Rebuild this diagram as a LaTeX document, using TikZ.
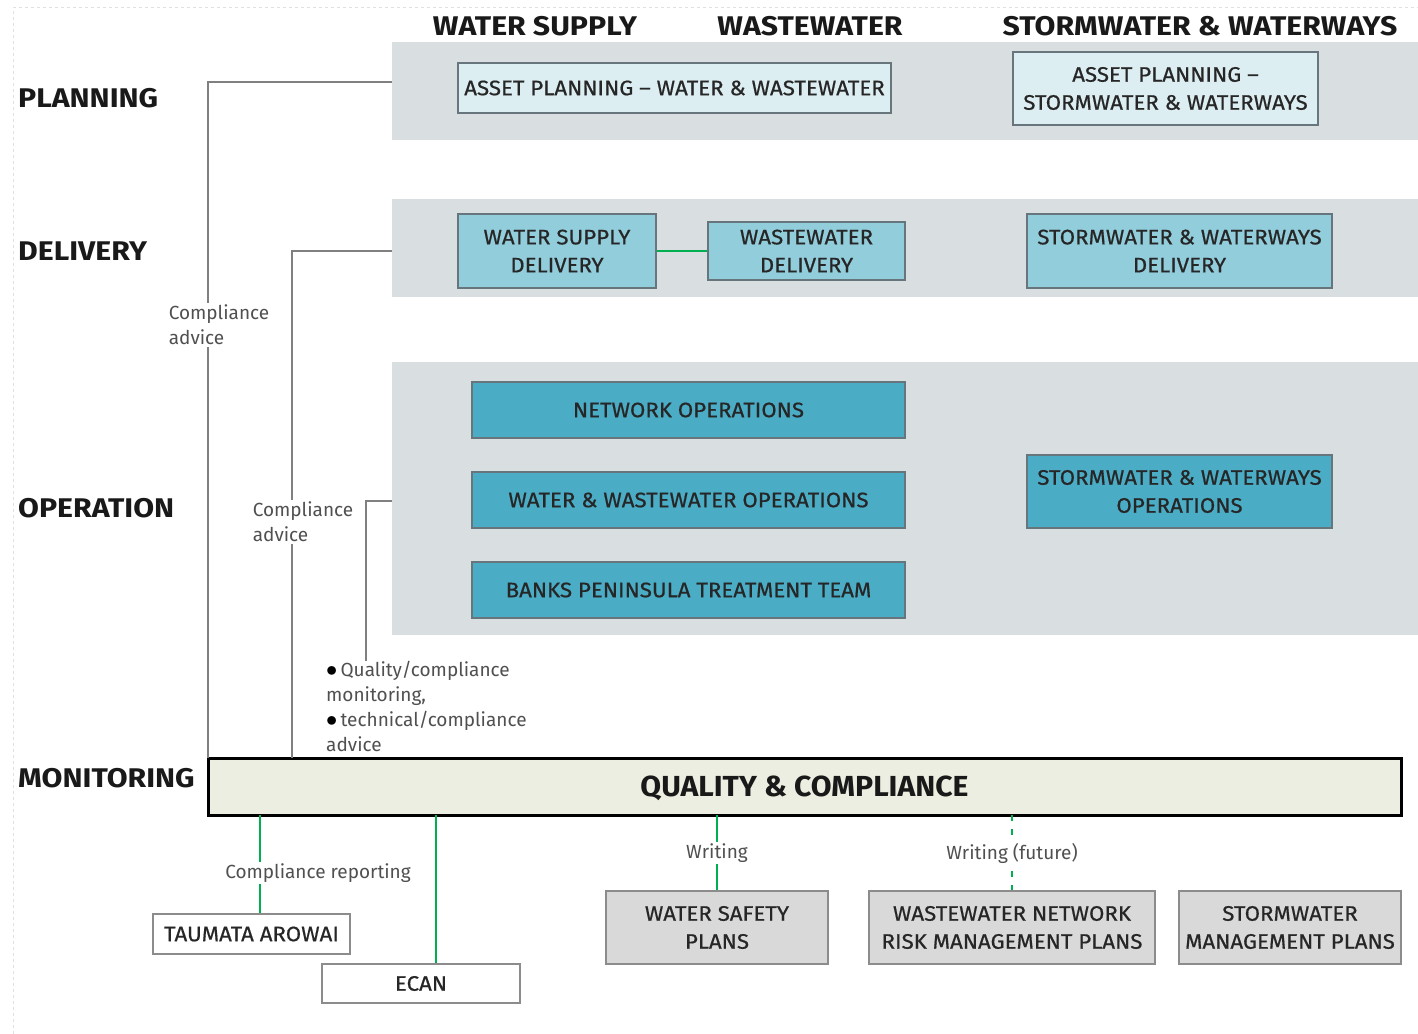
\documentclass[tikz,border=0pt]{standalone}
\usepackage{fontspec}
\setmainfont{Fira Sans}
\newfontfamily\hdrfam{Fira Sans}[FakeStretch=1.12]
\newfontfamily\qcfam{Fira Sans}[FakeStretch=1.04]
\newfontfamily\boxfam{Fira Sans}[FakeStretch=1.06, FakeBold=0.6]
\usetikzlibrary{calc}
\definecolor{bandgray}{HTML}{D9DEE1}
\definecolor{lightfill}{HTML}{DDEEF3}
\definecolor{midfill}{HTML}{92CDDC}
\definecolor{darkfill}{HTML}{4BACC6}
\definecolor{planfill}{HTML}{D9D9D9}
\definecolor{qcfill}{HTML}{EBEEE0}
\definecolor{boxedge}{HTML}{66767C}
\definecolor{plainedge}{HTML}{8C8C8C}
\definecolor{conngray}{HTML}{808080}
\definecolor{conngreen}{HTML}{00B050}
\definecolor{labgray}{HTML}{505050}
\definecolor{boxtext}{HTML}{262626}
\newcommand\hdrfont{\hdrfam\fontsize{27}{30}\selectfont\bfseries}
\newcommand\boxfont{\boxfam\fontsize{21}{28}\selectfont}
\newcommand\labfont{\fontsize{19}{25}\selectfont}
\newcommand\bul{{\color{black}\scalebox{1.3}{$\bullet$}}\,}
\tikzset{
  band/.style={fill=bandgray, draw=none, inner sep=0pt},
  basebox/.style={inner sep=0pt, align=center, font=\boxfont, text=boxtext, line width=1.5pt},
  lightbox/.style={basebox, fill=lightfill, draw=boxedge},
  midbox/.style={basebox, fill=midfill, draw=boxedge},
  darkbox/.style={basebox, fill=darkfill, draw=boxedge},
  planbox/.style={basebox, fill=planfill, draw=plainedge},
  extbox/.style={basebox, fill=white, draw=plainedge},
  hdr/.style={font=\hdrfont, text=black!90, inner sep=0pt},
  rowlab/.style={font=\hdrfont, text=black!90, inner sep=0pt, anchor=west},
  gconn/.style={draw=conngray, line width=1.8pt},
  grconn/.style={draw=conngreen, line width=2.6pt},
  lab/.style={font=\labfont, text=labgray, fill=white, inner sep=1.5pt, align=left},
}
\begin{document}
\begin{tikzpicture}[x=1pt,y=-1pt]
\useasboundingbox (0,0) rectangle (1418,1033);
\draw[black!12, dashed, line width=1pt] (13,1040) -- (13,8) -- (1425,8);

% column headers
\node[hdr] (hws) at (535,26) {WATER SUPPLY};
\node[hdr] (hww) at (810,26) {WASTEWATER};
\node[hdr] (hsw) at (1200,26) {STORMWATER \& WATERWAYS};

% row labels
\node[rowlab] (rpl) at (18,98) {PLANNING};
\node[rowlab] (rdl) at (18,251) {DELIVERY};
\node[rowlab] (rop) at (18,508) {OPERATION};
\node[rowlab] (rmo) at (18,778) {MONITORING};

% bands
\node[band, minimum width=1026, minimum height=98] (bandP) at (905,91) {};
\node[band, minimum width=1026, minimum height=98] (bandD) at (905,248) {};
\node[band, minimum width=1026, minimum height=273] (bandO) at (905,498.5) {};

% planning boxes
\node[lightbox, minimum width=433, minimum height=50] (apww) at (674.5,88) {ASSET PLANNING – WATER \& WASTEWATER};
\node[lightbox, minimum width=305, minimum height=73] (apsw) at (1165.5,88.5) {ASSET PLANNING –\\STORMWATER \& WATERWAYS};

% delivery boxes
\node[midbox, minimum width=198, minimum height=74] (wsd) at (557,251) {WATER SUPPLY\\DELIVERY};
\node[midbox, minimum width=197, minimum height=58] (wwd) at (806.5,251) {WASTEWATER\\DELIVERY};
\node[midbox, minimum width=305, minimum height=74] (swd) at (1179.5,251) {STORMWATER \& WATERWAYS\\DELIVERY};
\draw[grconn] (wsd.east) -- (wwd.west);

% operation boxes
\node[darkbox, minimum width=433, minimum height=56] (nop) at (688.5,410) {NETWORK OPERATIONS};
\node[darkbox, minimum width=433, minimum height=56] (wwo) at (688.5,500) {WATER \& WASTEWATER OPERATIONS};
\node[darkbox, minimum width=433, minimum height=56] (bpt) at (688.5,590) {BANKS PENINSULA TREATMENT TEAM};
\node[darkbox, minimum width=305, minimum height=73] (swo) at (1179.5,491.5) {STORMWATER \& WATERWAYS\\OPERATIONS};

% quality & compliance
\node[inner sep=0pt, outer sep=0pt, fill=qcfill, draw=black, line width=3pt, minimum width=1193, minimum height=57] (qc) at (804.5,786.5) {};
\node[font=\qcfam\fontsize{29}{32}\selectfont\bfseries, text=black!90, inner sep=0pt] (qct) at (804.5,788) {QUALITY \& COMPLIANCE};

% grey connectors from bands to Q&C
\draw[gconn] ([yshift=9pt]bandP.west) -| (qc.north west);
\node[lab] (ca1) at (219,325) {Compliance\\advice};
\draw[gconn] ([yshift=-3pt]bandD.west) -| ($(qc.north west)+(84,0)$);
\node[lab] (ca2) at (303,522) {Compliance\\advice};
\node[lab, text width=204, inner sep=0pt, anchor=north west] (bul) at (326,661)
  {\bul Quality/compliance\\monitoring,\\\bul technical/compliance\\advice};
\draw[gconn] ([yshift=-2.5pt]bandO.west) -| ($(bul.north west)+(40,0)$);

% bottom boxes
\node[extbox, minimum width=197, minimum height=40] (tau) at (251.5,934) {TAUMATA AROWAI};
\node[extbox, minimum width=198, minimum height=39] (ecan) at (421,983.5) {ECAN};
\node[planbox, minimum width=222, minimum height=73] (wsp) at (717,927.5) {WATER SAFETY\\PLANS};
\node[planbox, minimum width=286, minimum height=73] (wwr) at (1012,927.5) {WASTEWATER NETWORK\\RISK MANAGEMENT PLANS};
\node[planbox, minimum width=222, minimum height=73] (smp) at (1290,927.5) {STORMWATER\\MANAGEMENT PLANS};

% green connectors
\coordinate (g1) at ($(qc.south west)+(52,0)$);
\coordinate (g2) at ($(qc.south west)+(228,0)$);
\draw[grconn] (g1) -- (g1 |- tau.north);
\node[lab] (cr) at (318,873) {Compliance reporting};
\draw[grconn] (g2) -- (g2 |- ecan.north);
\draw[grconn] (wsp.north |- qc.south) -- (wsp.north);
\node[lab] (wr) at (717,853) {Writing};
\draw[grconn, dash pattern=on 6pt off 8pt] (wwr.north |- qc.south) -- (wwr.north);
\node[lab] (wrf) at (1012,853) {Writing (future)};
\end{tikzpicture}
\end{document}
